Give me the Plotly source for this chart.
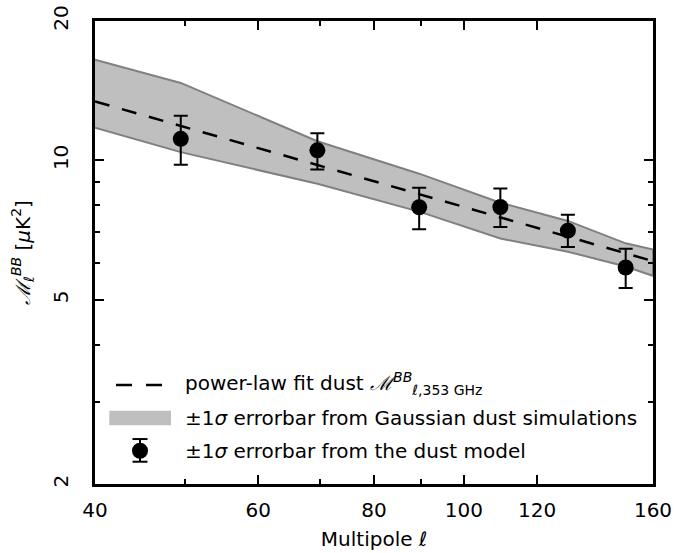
import plotly.graph_objects as go

# ---------------- data ----------------
ell_points = [49.5, 69.5, 89.5, 109.5, 129.5, 149.5]
m_points = [11.13, 10.51, 7.92, 7.93, 7.05, 5.87]
err_plus = [1.36, 0.94, 0.81, 0.77, 0.58, 0.57]
err_minus = [1.34, 0.95, 0.82, 0.75, 0.55, 0.57]

ell_band = [40, 49.5, 69.5, 89.5, 109.5, 129.5, 149.5, 160]
band_upper = [16.5, 14.7, 11.0, 9.36, 8.1, 7.4, 6.62, 6.42]
band_lower = [11.76, 10.42, 8.9, 7.75, 6.78, 6.35, 5.9, 5.63]

ell_fit = [40, 160]
m_fit = [13.41, 6.06]

x_major = [40, 60, 80, 100, 120, 160]
x_major_text = ["40", "60", "80", "100", "120", "160"]
x_minor = [50, 70, 90]
y_major = [2, 5, 10, 20]
y_major_text = ["2", "5", "10", "20"]
y_minor = [3, 4, 6, 7, 8, 9]

MSCR = "<span style=\"font-family:'DejaVu Serif'\"><i>ℳ</i></span>"
legend_labels = [
    "power-law fit dust " + MSCR + "<sup><i>BB</i></sup><sub>ℓ,353 GHz</sub>",
    "±1<i>σ</i> errorbar from Gaussian dust simulations",
    "±1<i>σ</i> errorbar from the dust model",
]
y_title = MSCR + "<sub>ℓ</sub><sup><i>BB</i></sup> [<i>μ</i>K<sup>2</sup>]"

# ---------------- layout constants ----------------
W, H = 689, 553
L, R, T, B = 95, 653, 20.5, 484
FONT = "DejaVu Sans"


def px(x, y):
    return (x - L) / (R - L), (B - y) / (B - T)


fig = go.Figure()

band_x = ell_band + ell_band[::-1]
band_y = band_upper + band_lower[::-1]
fig.add_trace(go.Scatter(
    x=band_x, y=band_y, mode="lines", fill="toself",
    fillcolor="#bfbfbf", line=dict(color="#808080", width=2),
    hoverinfo="skip", showlegend=False))

fig.add_trace(go.Scatter(
    x=ell_fit, y=m_fit, mode="lines",
    line=dict(color="black", width=2.5, dash="15px,13px"),
    showlegend=False))

fig.add_trace(go.Scatter(
    x=ell_points, y=m_points, mode="markers",
    marker=dict(color="black", size=16),
    error_y=dict(type="data", array=err_plus, arrayminus=err_minus,
                 color="black", thickness=2, width=7),
    showlegend=False))

# ---------------- legend (drawn manually) ----------------
shapes = []
x0, y0 = px(116, 385)
x1, _ = px(162, 385)
shapes.append(dict(type="line", xref="paper", yref="paper", x0=x0, x1=x1, y0=y0, y1=y0,
                   line=dict(color="black", width=2.5, dash="16px,14px")))
rx0, ry0 = px(109.3, 425.3)
rx1, ry1 = px(171, 410.7)
shapes.append(dict(type="rect", xref="paper", yref="paper", x0=rx0, x1=rx1, y0=ry0, y1=ry1,
                   fillcolor="#bfbfbf", line=dict(width=0)))
cx, cy = 140, 450.7
ex, ey_top = px(cx, 439)
_, ey_bot = px(cx, 461.7)
shapes.append(dict(type="line", xref="paper", yref="paper", x0=ex, x1=ex, y0=ey_bot, y1=ey_top,
                   line=dict(color="black", width=2)))
for yy in (439, 461.7):
    a, b = px(cx - 7.5, yy)
    c, _ = px(cx + 7.5, yy)
    shapes.append(dict(type="line", xref="paper", yref="paper", x0=a, x1=c, y0=b, y1=b,
                       line=dict(color="black", width=2)))
c0x, c0y = px(cx - 8, cy + 8)
c1x, c1y = px(cx + 8, cy - 8)
shapes.append(dict(type="circle", xref="paper", yref="paper", x0=c0x, x1=c1x, y0=c0y, y1=c1y,
                   fillcolor="black", line=dict(width=0)))

annotations = []
for label, yrow in zip(legend_labels, [383, 418, 450.7]):
    ax, ay = px(183, yrow)
    annotations.append(dict(text=label, xref="paper", yref="paper", x=ax, y=ay,
                            xanchor="left", yanchor="middle", showarrow=False,
                            font=dict(family=FONT, size=20, color="black")))

fig.update_layout(
    width=W, height=H,
    margin=dict(l=L, r=W - R, t=T, b=H - B, pad=0, autoexpand=False),
    paper_bgcolor="white", plot_bgcolor="white",
    font=dict(family=FONT, size=20, color="black"),
    shapes=shapes, annotations=annotations,
    showlegend=False,
)

fig.update_xaxes(
    type="log", range=[1.60206, 2.20412], automargin=False,
    tickmode="array", tickvals=x_major, ticktext=x_major_text,
    ticks="inside", ticklen=9, tickwidth=1.5, tickcolor="black",
    minor=dict(tickmode="array", tickvals=x_minor, ticks="inside", ticklen=5,
               tickwidth=1.5, tickcolor="black", showgrid=False),
    showline=True, linecolor="black", linewidth=2.5, mirror="ticks",
    showgrid=False, zeroline=False,
    tickfont=dict(family=FONT, size=20, color="black"), ticklabelstandoff=6,
    title=dict(text="Multipole <i>ℓ</i>", font=dict(family=FONT, size=20, color="black"),
               standoff=12),
)
fig.update_yaxes(
    type="log", range=[0.30103, 1.30103], automargin=False,
    tickmode="array", tickvals=y_major, ticktext=y_major_text,
    ticks="inside", ticklen=9, tickwidth=1.5, tickcolor="black",
    minor=dict(tickmode="array", tickvals=y_minor, ticks="inside", ticklen=5,
               tickwidth=1.5, tickcolor="black", showgrid=False),
    showline=True, linecolor="black", linewidth=2.5, mirror="ticks",
    showgrid=False, zeroline=False, tickangle=-90,
    tickfont=dict(family=FONT, size=20, color="black"), ticklabelstandoff=16,
    title=dict(text=y_title, font=dict(family=FONT, size=20, color="black"), standoff=14),
)

fig.write_html("out.html")
